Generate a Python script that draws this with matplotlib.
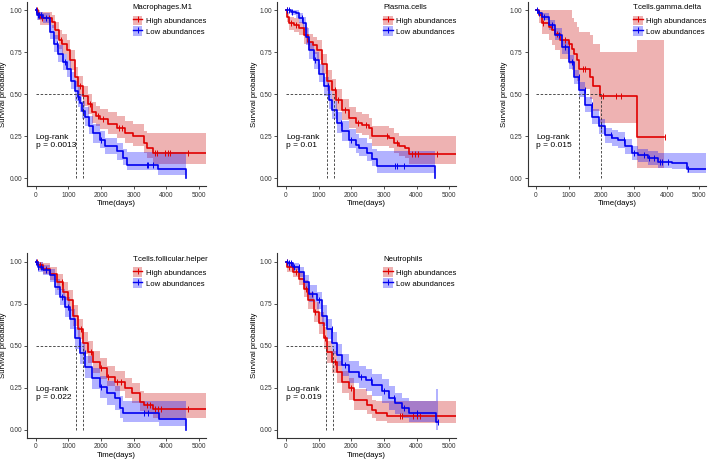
import numpy as np
import matplotlib.pyplot as plt
from matplotlib.patches import Patch
from matplotlib.lines import Line2D

plt.rcParams['font.family'] = ['Liberation Sans', 'DejaVu Sans']

RED = '#E00000'
BLUE = '#0000F0'

# ---- Macrophages.M1 ----
m1_hi_t = [0, 60, 120, 500, 600, 700, 800, 950, 1050, 1200, 1300, 1460, 1600, 1715, 1850, 1970, 2220, 2480, 2740, 2990, 3300, 3420, 3600, 5214]
m1_hi_s = [1.0, 0.97, 0.95, 0.93, 0.88, 0.82, 0.80, 0.76, 0.70, 0.60, 0.55, 0.49, 0.44, 0.39, 0.37, 0.35, 0.32, 0.30, 0.27, 0.25, 0.21, 0.18, 0.15, 0.15]
m1_hi_lo = [1.0, 0.94, 0.91, 0.89, 0.83, 0.77, 0.74, 0.70, 0.64, 0.54, 0.49, 0.43, 0.38, 0.33, 0.31, 0.29, 0.26, 0.24, 0.21, 0.19, 0.15, 0.12, 0.085, 0.085]
m1_hi_up = [1.0, 1.0, 0.99, 0.97, 0.93, 0.88, 0.86, 0.82, 0.76, 0.66, 0.61, 0.55, 0.50, 0.45, 0.43, 0.41, 0.39, 0.37, 0.34, 0.32, 0.28, 0.27, 0.27, 0.27]
m1_hi_c = [30, 90, 200, 420, 760, 1350, 1650, 1900, 2050, 2550, 2650, 3650, 3700, 3950, 4050, 4100, 4650]
m1_lo_t = [0, 50, 235, 440, 560, 694, 820, 949, 1080, 1204, 1280, 1357, 1430, 1510, 1640, 1765, 1970, 2120, 2480, 2684, 2786, 3755, 4592, 4593]
m1_lo_s = [1.0, 0.97, 0.95, 0.87, 0.80, 0.74, 0.69, 0.65, 0.58, 0.52, 0.48, 0.445, 0.40, 0.366, 0.31, 0.267, 0.228, 0.188, 0.158, 0.119, 0.08, 0.053, 0.0, 0.0]
m1_lo_lo = [1.0, 0.94, 0.92, 0.83, 0.75, 0.69, 0.64, 0.60, 0.53, 0.46, 0.42, 0.39, 0.35, 0.31, 0.26, 0.21, 0.18, 0.14, 0.11, 0.075, 0.045, 0.02, 0.0, 0.0]
m1_lo_up = [1.0, 0.99, 0.98, 0.91, 0.85, 0.79, 0.74, 0.70, 0.63, 0.58, 0.54, 0.50, 0.46, 0.42, 0.37, 0.32, 0.28, 0.24, 0.21, 0.17, 0.155, 0.155, 0.155, 0.155]
m1_lo_c = [20, 60, 110, 160, 300, 650, 900, 1300, 1450, 2000, 3400, 3450, 3600]
m1_med = [1236, 1451]
m1_p = 'p = 0.0013'

# ---- Plasma.cells ----
pc_hi_t = [0, 40, 100, 250, 406, 559, 660, 813, 965, 1118, 1270, 1423, 1524, 1728, 1931, 2134, 2337, 2541, 2642, 3150, 3303, 3455, 3658, 3780, 5203]
pc_hi_s = [1.0, 0.96, 0.92, 0.91, 0.89, 0.85, 0.81, 0.79, 0.76, 0.68, 0.58, 0.525, 0.465, 0.406, 0.356, 0.327, 0.317, 0.297, 0.248, 0.238, 0.208, 0.188, 0.178, 0.143, 0.143]
pc_hi_lo = [1.0, 0.93, 0.88, 0.87, 0.85, 0.80, 0.76, 0.74, 0.70, 0.62, 0.52, 0.46, 0.40, 0.345, 0.295, 0.265, 0.255, 0.235, 0.19, 0.18, 0.15, 0.13, 0.12, 0.085, 0.085]
pc_hi_up = [1.0, 0.99, 0.96, 0.95, 0.93, 0.90, 0.86, 0.84, 0.82, 0.74, 0.64, 0.59, 0.53, 0.47, 0.42, 0.39, 0.38, 0.36, 0.31, 0.30, 0.27, 0.25, 0.25, 0.25, 0.25]
pc_hi_c = [20, 150, 300, 700, 1500, 1600, 1800, 2200, 2450, 3100, 3400, 3850, 3950, 4050, 4630]
pc_lo_t = [0, 150, 305, 400, 508, 610, 711, 864, 1016, 1169, 1321, 1423, 1575, 1728, 1931, 2134, 2236, 2490, 2642, 2795, 4573, 4574]
pc_lo_s = [1.0, 0.99, 0.98, 0.95, 0.92, 0.84, 0.76, 0.70, 0.62, 0.545, 0.465, 0.406, 0.327, 0.277, 0.228, 0.198, 0.178, 0.149, 0.113, 0.069, 0.0, 0.0]
pc_lo_lo = [1.0, 0.97, 0.95, 0.92, 0.88, 0.79, 0.71, 0.65, 0.57, 0.49, 0.41, 0.35, 0.27, 0.22, 0.18, 0.15, 0.13, 0.10, 0.07, 0.03, 0.0, 0.0]
pc_lo_up = [1.0, 1.0, 1.0, 0.98, 0.96, 0.89, 0.81, 0.75, 0.68, 0.60, 0.52, 0.46, 0.39, 0.34, 0.29, 0.26, 0.24, 0.21, 0.17, 0.158, 0.158, 0.158]
pc_lo_c = [30, 80, 200, 500, 900, 1300, 1700, 2000, 3350, 3400, 3600]
pc_med = [1270, 1463]
pc_p = 'p = 0.01'

# ---- T.cells.gamma.delta ----
gd_hi_t = [0, 81, 183, 387, 489, 591, 743, 998, 1100, 1151, 1253, 1324, 1660, 1731, 1965, 3106, 3931]
gd_hi_s = [1.0, 0.97, 0.92, 0.90, 0.88, 0.86, 0.82, 0.80, 0.77, 0.74, 0.70, 0.65, 0.60, 0.545, 0.49, 0.245, 0.245]
gd_hi_lo = [1.0, 0.92, 0.86, 0.82, 0.79, 0.76, 0.71, 0.68, 0.64, 0.61, 0.58, 0.53, 0.47, 0.40, 0.33, 0.06, 0.06]
gd_hi_up = [1.0, 1.0, 1.0, 1.0, 1.0, 1.0, 1.0, 1.0, 0.95, 0.93, 0.90, 0.87, 0.85, 0.80, 0.75, 0.82, 0.82]
gd_hi_c = [200, 650, 900, 1000, 1450, 1500, 2050, 2450, 2600, 3950]
gd_lo_t = [0, 60, 183, 387, 591, 794, 998, 1151, 1303, 1507, 1711, 1914, 2118, 2322, 2525, 2729, 2933, 3136, 3442, 3747, 4155, 4613, 5204]
gd_lo_s = [1.0, 0.98, 0.96, 0.91, 0.85, 0.78, 0.69, 0.60, 0.525, 0.436, 0.366, 0.307, 0.257, 0.238, 0.228, 0.188, 0.149, 0.135, 0.119, 0.093, 0.089, 0.053, 0.053]
gd_lo_lo = [1.0, 0.97, 0.94, 0.88, 0.82, 0.74, 0.65, 0.56, 0.48, 0.39, 0.32, 0.26, 0.21, 0.19, 0.18, 0.145, 0.11, 0.095, 0.08, 0.06, 0.055, 0.03, 0.03]
gd_lo_up = [1.0, 0.99, 0.98, 0.94, 0.89, 0.82, 0.73, 0.64, 0.57, 0.48, 0.41, 0.35, 0.30, 0.285, 0.275, 0.235, 0.19, 0.175, 0.16, 0.15, 0.15, 0.15, 0.15]
gd_lo_c = [30, 100, 250, 500, 700, 900, 1100, 1300, 1500, 1700, 2000, 2300, 2700, 3000, 3300, 3450, 3600, 3800, 3850, 4050, 4650]
gd_med = [1324, 1976]
gd_p = 'p = 0.015'

# ---- T.cells.follicular.helper ----
fh_hi_t = [0, 60, 235, 439, 643, 847, 1000, 1153, 1306, 1459, 1612, 1765, 1969, 2173, 2429, 2735, 2939, 3194, 3316, 3602, 5214]
fh_hi_s = [1.0, 0.98, 0.96, 0.93, 0.88, 0.82, 0.77, 0.68, 0.60, 0.515, 0.465, 0.406, 0.366, 0.317, 0.287, 0.248, 0.218, 0.168, 0.149, 0.123, 0.123]
fh_hi_lo = [1.0, 0.95, 0.93, 0.89, 0.83, 0.77, 0.71, 0.62, 0.54, 0.45, 0.40, 0.34, 0.30, 0.26, 0.23, 0.19, 0.16, 0.11, 0.095, 0.07, 0.07]
fh_hi_up = [1.0, 1.0, 0.99, 0.97, 0.93, 0.88, 0.83, 0.74, 0.66, 0.58, 0.53, 0.47, 0.43, 0.38, 0.35, 0.31, 0.28, 0.23, 0.222, 0.222, 0.222]
fh_hi_c = [30, 120, 300, 800, 1400, 1700, 2000, 2200, 2500, 2600, 3400, 3500, 3650, 3750, 3850, 4650]
fh_lo_t = [0, 60, 235, 439, 592, 745, 898, 1051, 1204, 1357, 1510, 1714, 1969, 2173, 2429, 2582, 2684, 3786, 4592, 4593]
fh_lo_s = [1.0, 0.97, 0.95, 0.92, 0.85, 0.79, 0.73, 0.66, 0.545, 0.455, 0.376, 0.307, 0.257, 0.218, 0.188, 0.129, 0.099, 0.065, 0.0, 0.0]
fh_lo_lo = [1.0, 0.94, 0.92, 0.88, 0.80, 0.74, 0.67, 0.60, 0.48, 0.39, 0.31, 0.24, 0.19, 0.15, 0.12, 0.07, 0.045, 0.02, 0.0, 0.0]
fh_lo_up = [1.0, 1.0, 0.98, 0.96, 0.90, 0.84, 0.79, 0.72, 0.61, 0.52, 0.44, 0.37, 0.32, 0.29, 0.26, 0.20, 0.17, 0.17, 0.17, 0.17]
fh_lo_c = [20, 80, 150, 300, 800, 1000, 1500, 2000, 3300, 3450]
fh_med = [1245, 1459]
fh_p = 'p = 0.022'

# ---- Neutrophils ----
ne_hi_t = [0, 40, 203, 406, 559, 660, 864, 1016, 1169, 1270, 1423, 1575, 1728, 1931, 2083, 2490, 2642, 2744, 3100, 5203]
ne_hi_s = [1.0, 0.97, 0.94, 0.90, 0.84, 0.77, 0.70, 0.634, 0.545, 0.465, 0.406, 0.347, 0.287, 0.248, 0.178, 0.149, 0.119, 0.099, 0.083, 0.083]
ne_hi_lo = [1.0, 0.94, 0.91, 0.86, 0.79, 0.72, 0.64, 0.57, 0.48, 0.40, 0.34, 0.28, 0.22, 0.18, 0.12, 0.095, 0.07, 0.05, 0.04, 0.04]
ne_hi_up = [1.0, 1.0, 0.97, 0.94, 0.89, 0.82, 0.76, 0.70, 0.61, 0.53, 0.47, 0.41, 0.35, 0.31, 0.24, 0.21, 0.18, 0.17, 0.17, 0.17]
ne_hi_c = [20, 100, 300, 600, 900, 1200, 1500, 2000, 3500, 3550, 3900, 4000, 4100]
ne_lo_t = [0, 50, 203, 406, 559, 711, 965, 1118, 1270, 1423, 1575, 1728, 1931, 2236, 2439, 2642, 2947, 3150, 3354, 3557, 3760, 4593, 4660]
ne_lo_s = [1.0, 0.99, 0.97, 0.94, 0.88, 0.81, 0.77, 0.68, 0.60, 0.515, 0.445, 0.386, 0.347, 0.317, 0.297, 0.267, 0.228, 0.188, 0.158, 0.129, 0.099, 0.045, 0.045]
ne_lo_lo = [1.0, 0.97, 0.95, 0.91, 0.84, 0.76, 0.72, 0.62, 0.54, 0.45, 0.38, 0.32, 0.28, 0.25, 0.23, 0.20, 0.16, 0.12, 0.095, 0.07, 0.045, 0.0, 0.0]
ne_lo_up = [1.0, 1.0, 0.99, 0.97, 0.92, 0.86, 0.82, 0.74, 0.66, 0.58, 0.51, 0.45, 0.41, 0.38, 0.36, 0.33, 0.30, 0.26, 0.22, 0.19, 0.17, 0.24, 0.24]
ne_lo_c = [30, 80, 150, 250, 400, 800, 1000, 1400, 1800, 2300, 2600, 3000, 3300, 3600, 4000, 4660]
ne_med = [1240, 1443]
ne_p = 'p = 0.019'

panels = [
    ('Macrophages.M1', m1_hi_t, m1_hi_s, m1_hi_lo, m1_hi_up, m1_hi_c, m1_lo_t, m1_lo_s, m1_lo_lo, m1_lo_up, m1_lo_c, m1_med, m1_p),
    ('Plasma.cells', pc_hi_t, pc_hi_s, pc_hi_lo, pc_hi_up, pc_hi_c, pc_lo_t, pc_lo_s, pc_lo_lo, pc_lo_up, pc_lo_c, pc_med, pc_p),
    ('T.cells.gamma.delta', gd_hi_t, gd_hi_s, gd_hi_lo, gd_hi_up, gd_hi_c, gd_lo_t, gd_lo_s, gd_lo_lo, gd_lo_up, gd_lo_c, gd_med, gd_p),
    ('T.cells.follicular.helper', fh_hi_t, fh_hi_s, fh_hi_lo, fh_hi_up, fh_hi_c, fh_lo_t, fh_lo_s, fh_lo_lo, fh_lo_up, fh_lo_c, fh_med, fh_p),
    ('Neutrophils', ne_hi_t, ne_hi_s, ne_hi_lo, ne_hi_up, ne_hi_c, ne_lo_t, ne_lo_s, ne_lo_lo, ne_lo_up, ne_lo_c, ne_med, ne_p),
]

W, H = 708, 459
# axes boxes in pixels (left, top)
boxes = [(27.2, 1.6), (277.4, 1.6), (527.5, 1.6), (27.2, 253.4), (277.4, 253.4)]
aw, ah = 178.8, 184.8


def km(ax, t, s, lo, up, cens, col, fcol, alpha):
    t = np.array(t, float)
    s = np.array(s, float)
    ax.fill_between(t, lo, up, step='post', color=fcol, alpha=alpha, lw=0)
    ax.step(t, s, where='post', color=col, lw=1.2)
    c = np.array(cens, float)
    idx = np.searchsorted(t, c, side='right') - 1
    ax.plot(c, s[idx], ls='none', marker='|', ms=4, mew=0.7, color=col)


fig = plt.figure(figsize=(W / 100, H / 100), dpi=100)
for (name, ht, hs, hl, hu, hc, lt, ls_, ll, lu, lc, med, ptxt), (bx, by) in zip(panels, boxes):
    ax = fig.add_axes([bx / W, 1 - (by + ah) / H, aw / W, ah / H])
    km(ax, ht, hs, hl, hu, hc, RED, '#C80000', 0.3)
    km(ax, lt, ls_, ll, lu, lc, BLUE, '#0000FF', 0.3)
    ax.plot([0, max(med)], [0.5, 0.5], ls=(0, (3, 2)), color='#333333', lw=0.6)
    for m in med:
        ax.plot([m, m], [0, 0.5], ls=(0, (3, 2)), color='#333333', lw=0.6)
    ax.text(0, 0.217, 'Log-rank\n' + ptxt, fontsize=6.0, ha='left', va='center', linespacing=1.1)
    ax.set_xlim(-262, 5214)
    ax.set_ylim(-0.05, 1.05)
    ax.set_xticks([0, 1000, 2000, 3000, 4000, 5000])
    ax.set_yticks([0, 0.25, 0.5, 0.75, 1.0])
    ax.set_yticklabels(['0.00', '0.25', '0.50', '0.75', '1.00'])
    ax.tick_params(labelsize=4.7, length=2.2, width=0.6, pad=1.5, colors='#333333', labelcolor='#333333')
    for sp in ['top', 'right']:
        ax.spines[sp].set_visible(False)
    for sp in ['left', 'bottom']:
        ax.spines[sp].set_linewidth(0.8)
        ax.spines[sp].set_color('#333333')
    ax.set_xlabel('Time(days)', fontsize=5.7, labelpad=1.0)
    ax.set_ylabel('Survival probability', fontsize=5.6, labelpad=1.5)
    handles = [
        (Patch(fc='#C80000', alpha=0.3, lw=0), Line2D([], [], color=RED, lw=1, marker='|', ms=4, mew=0.7)),
        (Patch(fc='#0000FF', alpha=0.3, lw=0), Line2D([], [], color=BLUE, lw=1, marker='|', ms=4, mew=0.7)),
    ]
    leg = ax.legend(handles, ['High abundances', 'Low abundances'], title=name,
                    loc='upper left', bbox_to_anchor=(0.59, 0.985), frameon=False,
                    fontsize=5.6, title_fontsize=5.6, handlelength=1.25, handleheight=1.5,
                    handletextpad=0.45, labelspacing=0.18, borderpad=0.0, borderaxespad=0.0)
    leg._legend_box.align = 'left'
    leg._legend_box.sep = 3

fig.savefig('out.png', dpi=100)
